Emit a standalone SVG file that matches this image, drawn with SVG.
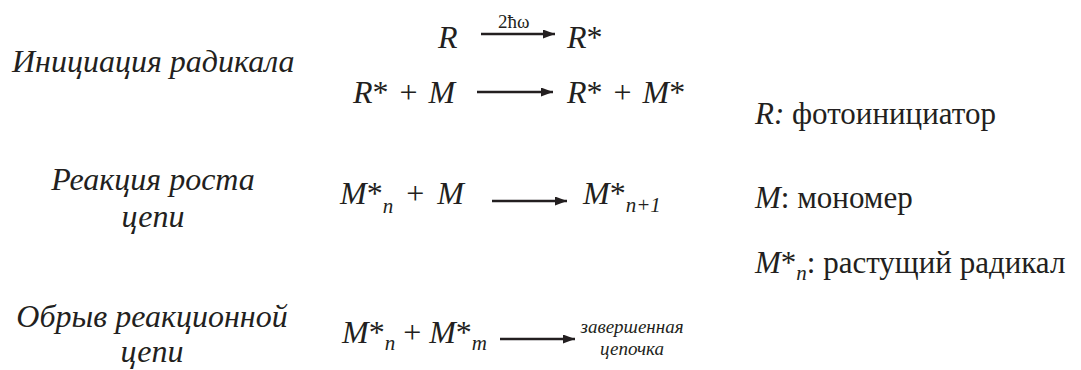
<svg xmlns="http://www.w3.org/2000/svg" width="1081" height="370" viewBox="0 0 1081 370">
<style>
.ar{stroke:#231f20;stroke-width:2.6;fill:none;marker-end:url(#ah)}
</style>
<defs>
<marker id="ah" viewBox="0 0 12 9" refX="12" refY="4.5" markerWidth="12" markerHeight="9" markerUnits="userSpaceOnUse" orient="auto">
<path d="M0,0 L12,4.5 L0,9 Z" fill="#231f20"/>
</marker>
</defs>
<g fill="#231f20">
<g id="label-initiation"><text x="12" y="72" font-family="Liberation Serif" font-size="32" font-style="italic">Инициация радикала</text></g>
<g id="label-growth"><text x="153" y="190" font-family="Liberation Serif" font-size="32" font-style="italic" text-anchor="middle">Реакция роста</text><text x="153" y="227" font-family="Liberation Serif" font-size="32" font-style="italic" text-anchor="middle">цепи</text></g>
<g id="label-termination"><text x="152" y="327" font-family="Liberation Serif" font-size="32" font-style="italic" text-anchor="middle">Обрыв реакционной</text><text x="152" y="362" font-family="Liberation Serif" font-size="32" font-style="italic" text-anchor="middle">цепи</text></g>
<g id="eq1-left"><text x="438" y="48" font-family="Liberation Serif" font-size="32" font-style="italic">R</text></g>
<g id="eq1-label"><text x="498" y="28" font-family="Liberation Serif" font-size="19">2ħω</text></g>
<g id="eq1-right"><text x="567" y="48" font-family="Liberation Serif" font-size="32" font-style="italic">R<tspan font-style="normal">*</tspan></text></g>
<g id="eq2-left"><text x="353" y="103" font-family="Liberation Serif" font-size="32" font-style="italic" word-spacing="3">R<tspan font-style="normal">* + </tspan>M</text></g>
<g id="eq2-right"><text x="567" y="103" font-family="Liberation Serif" font-size="32" font-style="italic" word-spacing="3">R<tspan font-style="normal">* + </tspan>M<tspan font-style="normal">*</tspan></text></g>
<g id="eq3-left"><text x="340" y="204" font-family="Liberation Serif" font-size="32" font-style="italic" word-spacing="5">M<tspan font-style="normal">*</tspan><tspan font-size="21" dy="9">n</tspan><tspan font-style="normal" dy="-9"> + </tspan>M</text></g>
<g id="eq3-right"><text x="583" y="204" font-family="Liberation Serif" font-size="32" font-style="italic">M<tspan font-style="normal">*</tspan><tspan font-size="21" dy="8">n+1</tspan></text></g>
<g id="eq4-left"><text x="342" y="343" font-family="Liberation Serif" font-size="32" font-style="italic">M<tspan font-style="normal">*</tspan><tspan font-size="21" dy="7">n</tspan><tspan font-style="normal" dy="-7"> + </tspan>M<tspan font-style="normal">*</tspan><tspan font-size="21" dy="7">m</tspan></text></g>
<g id="eq4-right"><text x="632" y="333" font-family="Liberation Serif" font-size="19" font-style="italic" text-anchor="middle">завершенная</text><text x="632" y="355" font-family="Liberation Serif" font-size="19" font-style="italic" text-anchor="middle">цепочка</text></g>
<g id="legend">
<text x="755" y="124" font-family="Liberation Serif" font-size="31"><tspan font-style="italic">R:</tspan> фотоинициатор</text>
<text x="755" y="208" font-family="Liberation Serif" font-size="31"><tspan font-style="italic">M</tspan>: мономер</text>
<text x="755" y="273" font-family="Liberation Serif" font-size="31"><tspan font-style="italic">M</tspan>*<tspan font-size="21" font-style="italic" dy="7">n</tspan><tspan dy="-7">: растущий радикал</tspan></text>
</g>
</g>
<g id="connectors">
<line class="ar" x1="481" y1="34" x2="555" y2="34"/>
<line class="ar" x1="477" y1="92" x2="553" y2="92"/>
<line class="ar" x1="492" y1="201" x2="567" y2="201"/>
<line class="ar" x1="500" y1="339" x2="575" y2="339"/>
</g>
</svg>
